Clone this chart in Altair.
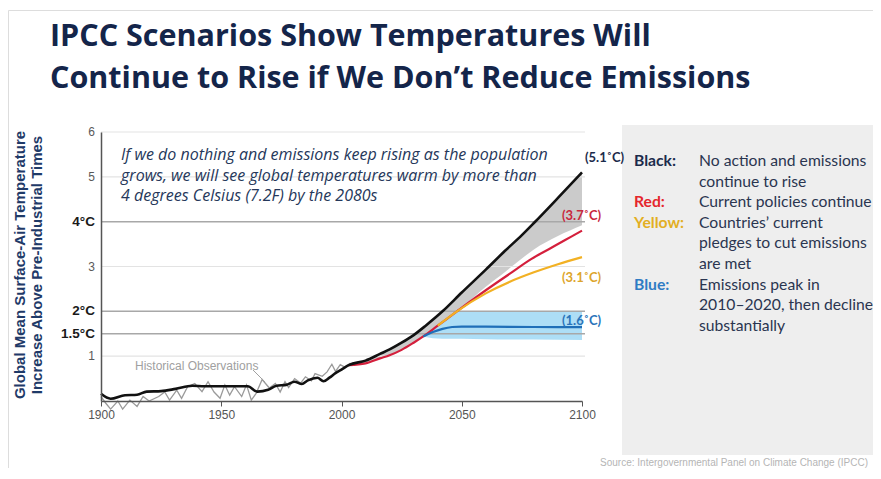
import altair as alt
import pandas as pd

# ---------------- data ----------------
title_lines = ["IPCC Scenarios Show Temperatures Will",
               "Continue to Rise if We Don\u2019t Reduce Emissions"]
y_title_lines = ["Global Mean Surface-Air Temperature",
                 "Increase Above Pre-Industrial Times"]
annotation_lines = ["If we do nothing and emissions keep rising as the population",
                    "grows, we will see global temperatures warm by more than",
                    "4 degrees Celsius (7.2F) by the 2080s"]

x_ticks = [1900, 1950, 2000, 2050, 2100]
y_tick_values = [6, 5, 4, 3, 2, 1.5, 1]
y_tick_labels = ["6", "5", "4\u00b0C", "3", "2\u00b0C", "1.5\u00b0C", "1"]
y_tick_bold = [False, False, True, False, True, True, False]

# historical observations (grey, noisy)
obs_years = [1900, 1902, 1904, 1907, 1909, 1912, 1915, 1917.5, 1920, 1924, 1926.5,
             1928.5, 1931.5, 1933.5, 1936, 1939, 1942, 1944.5, 1947, 1949.5, 1951.5,
             1953.5, 1955.5, 1958.5, 1960.5, 1962.5, 1964.5, 1967, 1970, 1972.5,
             1974.5, 1976.5, 1978, 1980.5, 1983, 1985, 1987.5, 1989, 1992, 1994,
             1996, 1997.5, 1999.5, 2001.5, 2003.5, 2005]
obs_values = [0.10, -0.05, -0.18, 0.00, -0.18, 0.02, -0.12, 0.10, 0.00, 0.10, 0.20,
              0.02, 0.24, 0.06, 0.32, 0.39, 0.21, 0.43, 0.20, 0.06, 0.36,
              0.13, 0.32, 0.10, 0.36, 0.02, 0.17, 0.48, 0.29, 0.39,
              0.20, 0.43, 0.30, 0.50, 0.40, 0.54, 0.45, 0.61, 0.55, 0.65,
              0.82, 0.66, 0.81, 0.75, 0.84, 0.82]

# smoothed historical (black)
hist_years = [1900, 1904, 1910, 1915, 1919, 1925, 1931, 1938, 1943, 1950, 1961, 1965,
              1969.5, 1973, 1977, 1980.5, 1983.5, 1986, 1990, 1992.5, 1995, 1997.5, 2000]
hist_values = [0.16, 0.05, 0.13, 0.14, 0.21, 0.22, 0.27, 0.34, 0.33, 0.33, 0.33, 0.21,
               0.25, 0.34, 0.36, 0.43, 0.38, 0.46, 0.52, 0.44, 0.52, 0.62, 0.70]

# projections
black_years = [2003, 2010, 2016, 2020, 2025, 2030, 2035, 2042, 2050, 2060, 2068, 2075,
               2080, 2090, 2100]
black_values = [0.80, 0.90, 1.05, 1.15, 1.30, 1.47, 1.68, 2.00, 2.42, 2.93, 3.35, 3.70,
                3.97, 4.53, 5.10]
gray_band_low = [0.80, 0.84, 0.95, 1.02, 1.14, 1.30, 1.47, 1.72, 2.08, 2.55, 2.88, 3.18,
                 3.38, 3.68, 3.92]

red_years = [2003, 2010, 2016, 2020, 2025, 2030, 2034, 2040, 2048, 2060, 2070, 2079,
             2086, 2093, 2100]
red_values = [0.80, 0.84, 0.95, 1.02, 1.14, 1.30, 1.44, 1.68, 2.00, 2.47, 2.84, 3.17,
              3.38, 3.59, 3.80]

yellow_years = [2040, 2048, 2060, 2070, 2080, 2090, 2100]
yellow_values = [1.68, 2.00, 2.40, 2.66, 2.87, 3.05, 3.21]

blue_years = [2034, 2038, 2042, 2046, 2050, 2060, 2080, 2100]
blue_values = [1.44, 1.54, 1.61, 1.65, 1.66, 1.66, 1.65, 1.65]
blue_band_low = [1.44, 1.40, 1.39, 1.39, 1.39, 1.38, 1.37, 1.36]
blue_band_high = [1.44, 1.59, 1.75, 1.92, 2.00, 2.00, 2.00, 2.00]

end_labels = ["(5.1\u02daC)", "(3.7\u02daC)", "(3.1\u02daC)", "(1.6\u02daC)"]

legend_keys = ["Black:", "Red:", "Yellow:", "Blue:"]
legend_desc = [["No action and emissions", "continue to rise"],
               ["Current policies continue"],
               ["Countries\u2019 current", "pledges to cut emissions", "are met"],
               ["Emissions peak in", "2010\u20132020, then decline", "substantially"]]

source_text = "Source: Intergovernmental Panel on Climate Change (IPCC)"

# ---------------- styling ----------------
NAVY = "#1b2b4b"
W, H = 481, 269
xs = alt.Scale(domain=[1900, 2100], nice=False)
ys = alt.Scale(domain=[0, 6], nice=False)


def txt(s, px, py, **kw):
    return alt.Chart(pd.DataFrame({"t": [s]})).mark_text(**kw).encode(
        text="t:N", x=alt.value(px), y=alt.value(py))


layers = []

# outer frame (outline only)
layers.append(alt.Chart(pd.DataFrame({"a": [0]})).mark_rect(
    fillOpacity=0, stroke="#dddddd", strokeWidth=1).encode(
    x=alt.value(-92.5), x2=alt.value(900), y=alt.value(-121.5), y2=alt.value(400)))

# legend panel
layers.append(alt.Chart(pd.DataFrame({"a": [0]})).mark_rect(
    fill="#eeeeee").encode(
    x=alt.value(521), x2=alt.value(800), y=alt.value(-7), y2=alt.value(323)))

# bands
gray_df = pd.DataFrame({"year": black_years, "lo": gray_band_low, "hi": black_values})
layers.append(alt.Chart(gray_df).mark_area(color="#c8c8c8", opacity=0.95,
                                           interpolate="monotone").encode(
    x=alt.X("year:Q", scale=xs), y=alt.Y("lo:Q", scale=ys), y2="hi:Q"))
blue_band_df = pd.DataFrame({"year": blue_years, "lo": blue_band_low, "hi": blue_band_high})
layers.append(alt.Chart(blue_band_df).mark_area(color="#a9dcf5", opacity=0.95,
                                                interpolate="monotone").encode(
    x=alt.X("year:Q", scale=xs), y=alt.Y("lo:Q", scale=ys), y2="hi:Q"))

# gridlines
light_levels = [v for v, b in zip(y_tick_values, y_tick_bold) if not b]
dark_levels = [v for v, b in zip(y_tick_values, y_tick_bold) if b]
layers.append(alt.Chart(pd.DataFrame({"v": light_levels})).mark_rule(
    color="#e3e3e3", strokeWidth=1.2).encode(
    y=alt.Y("v:Q", scale=ys), x=alt.value(0), x2=alt.value(484)))
layers.append(alt.Chart(pd.DataFrame({"v": dark_levels})).mark_rule(
    color="#a8a8a8", strokeWidth=1.5).encode(
    y=alt.Y("v:Q", scale=ys), x=alt.value(0), x2=alt.value(484)))

# axes
axis_df = pd.DataFrame({"year": [1900, 2100], "v": [0, 6]})
layers.append(alt.Chart(axis_df).mark_point(opacity=0).encode(
    x=alt.X("year:Q", scale=xs, axis=alt.Axis(
        values=x_ticks, format="d", grid=False, title=None, domainColor="#555555",
        domainWidth=1.5, tickColor="#555555", tickSize=5, labelFlush=False,
        labelOverlap=False, labelBound=False,
        labelColor="#555555", labelFont="Liberation Sans", labelFontSize=12,
        labelPadding=3, zindex=1)),
    y=alt.Y("v:Q", scale=ys, axis=alt.Axis(
        grid=False, labels=False, ticks=False, title=None,
        domainColor="#555555", domainWidth=1.5, zindex=1))))

# y tick labels
ytl = pd.DataFrame({"v": y_tick_values, "lab": y_tick_labels, "b": y_tick_bold})
layers.append(alt.Chart(ytl[~ytl.b]).mark_text(
    align="right", baseline="middle", font="Liberation Sans", fontSize=12,
    color="#595959").encode(y=alt.Y("v:Q", scale=ys), x=alt.value(-6), text="lab:N"))
layers.append(alt.Chart(ytl[ytl.b]).mark_text(
    align="right", baseline="middle", font="Liberation Sans", fontSize=13.5,
    fontWeight="bold", color="#1a1a1a").encode(
    y=alt.Y("v:Q", scale=ys), x=alt.value(-6), text="lab:N"))

# observations
obs_df = pd.DataFrame({"year": obs_years, "v": obs_values})
layers.append(alt.Chart(obs_df).mark_line(color="#9a9a9a", strokeWidth=1.3, clip=False).encode(
    x=alt.X("year:Q", scale=xs), y=alt.Y("v:Q", scale=ys)))

# scenario lines
red_df = pd.DataFrame({"year": red_years, "v": red_values})
layers.append(alt.Chart(red_df).mark_line(color="#d41f3c", strokeWidth=2.2,
                                          interpolate="monotone").encode(
    x=alt.X("year:Q", scale=xs), y=alt.Y("v:Q", scale=ys)))
yel_df = pd.DataFrame({"year": yellow_years, "v": yellow_values})
layers.append(alt.Chart(yel_df).mark_line(color="#f2b124", strokeWidth=2.2,
                                          interpolate="monotone").encode(
    x=alt.X("year:Q", scale=xs), y=alt.Y("v:Q", scale=ys)))
blue_df = pd.DataFrame({"year": blue_years, "v": blue_values})
layers.append(alt.Chart(blue_df).mark_line(color="#1f6fb8", strokeWidth=2.2,
                                           interpolate="monotone").encode(
    x=alt.X("year:Q", scale=xs), y=alt.Y("v:Q", scale=ys)))
black_df = pd.DataFrame({"year": hist_years + black_years, "v": hist_values + black_values})
layers.append(alt.Chart(black_df).mark_line(color="#111111", strokeWidth=2.6,
                                            interpolate="monotone").encode(
    x=alt.X("year:Q", scale=xs), y=alt.Y("v:Q", scale=ys)))

# end labels
label_colors = [NAVY, "#c9283d", "#dda52c", "#2a74ba"]
label_pos = [(484, 26), (461, 84), (461, 146), (461, 189)]
for s, c, (px, py) in zip(end_labels, label_colors, label_pos):
    layers.append(txt(s, px, py, align="left", baseline="middle", font="Lato",
                      fontSize=13, fontWeight="bold", color=c))

# historical observations label + leader
layers.append(txt("Historical Observations", 34, 234, align="left", baseline="middle",
                  font="Liberation Sans", fontSize=12, color="#a0a0a0"))
layers.append(alt.Chart(pd.DataFrame({"a": [0]})).mark_rule(color="#a0a0a0", strokeWidth=1).encode(
    x=alt.value(152), x2=alt.value(164), y=alt.value(238), y2=alt.value(250)))

# annotation
for i, s in enumerate(annotation_lines):
    layers.append(txt(s, 20, 23 + i * 20.5, align="left", baseline="middle", font="Open Sans",
                      fontSize=16, fontStyle="italic", color="#25375a"))

# title
for i, s in enumerate(title_lines):
    layers.append(txt(s, -51, -95 + i * 42, align="left", baseline="middle", font="Open Sans",
                      fontSize=30.5, fontWeight="bold", color="#14254a"))

# y-axis title
for i, s in enumerate(y_title_lines):
    layers.append(txt(s, -81 + i * 17, 133, align="center", baseline="middle", angle=270,
                      font="Liberation Sans", fontSize=15, fontWeight="bold", color="#1f3a68"))

# legend text
key_colors = [NAVY, "#e5262c", "#e3ae22", "#2f7cc4"]
line = 0
for k, c, descs in zip(legend_keys, key_colors, legend_desc):
    layers.append(txt(k, 533, 29 + line * 20.6, align="left", baseline="middle", font="Lato",
                      fontSize=15.7, fontWeight="bold", color=c))
    for d in descs:
        layers.append(txt(d, 598, 29 + line * 20.6, align="left", baseline="middle",
                          font="Lato", fontSize=15.7, color="#2a3550"))
        line += 1

# source
layers.append(txt(source_text, 767, 331, align="right", baseline="middle",
                  font="Liberation Sans", fontSize=10, color="#b5b5b5"))

chart = alt.layer(*layers).properties(
    width=W, height=H,
    autosize="none",
    padding={"left": 93, "top": 124, "right": 291, "bottom": 67},
    background="white",
).configure_view(stroke=None)

chart.save("out.html", embed_options={"renderer": "svg", "actions": False})
